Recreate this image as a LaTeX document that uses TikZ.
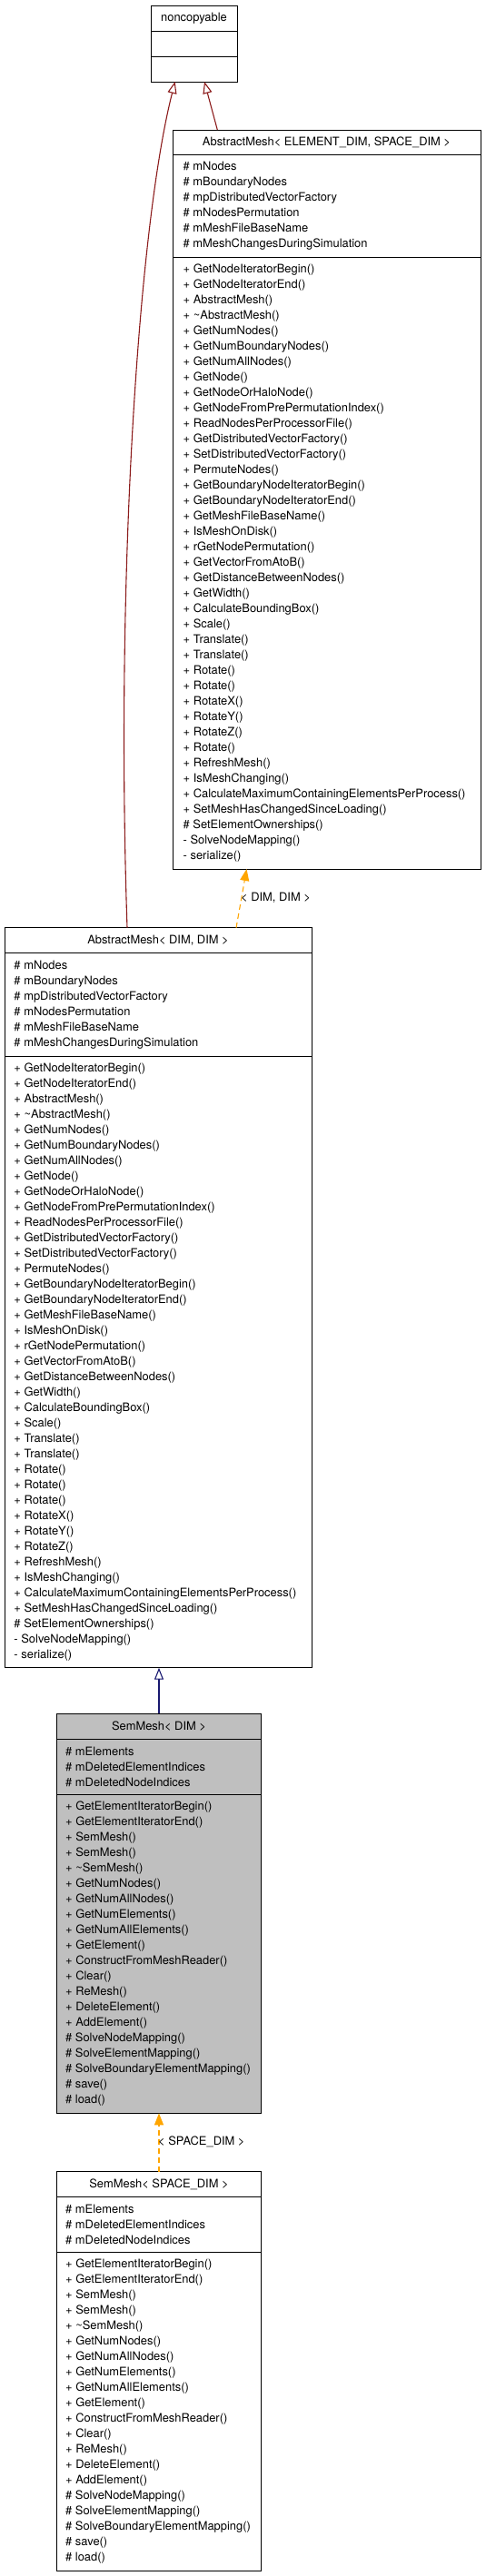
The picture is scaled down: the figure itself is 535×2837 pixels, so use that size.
\documentclass[tikz,border=0pt]{standalone}
\usepackage{fontspec}
\setmainfont{TeX Gyre Heros}
\usetikzlibrary{arrows.meta, positioning, calc}
\definecolor{privred}{RGB}{139,26,26}
\definecolor{pubblue}{RGB}{25,25,112}
\definecolor{tplorange}{RGB}{255,165,0}
\definecolor{boxgray}{RGB}{191,191,191}
\newcommand{\umlfont}{\fontsize{12.9bp}{17bp}\selectfont}
% shared member lists
\newcommand{\meshattrs}{\# mNodes\\ \# mBoundaryNodes\\ \# mpDistributedVectorFactory\\
    \# mNodesPermutation\\ \# mMeshFileBaseName\\ \# mMeshChangesDuringSimulation}
\newcommand{\semattrs}{\# mElements\\ \# mDeletedElementIndices\\ \# mDeletedNodeIndices}
\newcommand{\semmethods}{+ GetElementIteratorBegin()\\ + GetElementIteratorEnd()\\
    + SemMesh()\\ + SemMesh()\\ + \textasciitilde SemMesh()\\ + GetNumNodes()\\
    + GetNumAllNodes()\\ + GetNumElements()\\ + GetNumAllElements()\\ + GetElement()\\
    + ConstructFromMeshReader()\\ + Clear()\\ + ReMesh()\\ + DeleteElement()\\
    + AddElement()\\ \# SolveNodeMapping()\\ \# SolveElementMapping()\\
    \# SolveBoundaryElementMapping()\\ \# save()\\ \# load()}

\tikzset{
    % Class boxes
    cbox/.style={rectangle, draw=black, line width=1bp, fill=#1, inner sep=0pt,
                outer sep=0pt, anchor=north west},
    cbox/.default=white,
    ctitle/.style={font=\umlfont, inner sep=0pt},
    clist/.style={font=\umlfont, align=left, inner sep=0pt, anchor=west},
    csep/.style={line width=1bp, black},
    % Inheritance
    privarrow/.style={-{Triangle[open, length=13bp, width=10bp]}, line width=1.1bp, privred},
    pubarrow/.style={-{Triangle[open, length=13bp, width=10bp]}, line width=1.1bp, pubblue},
    % Template instances
    tplarrow/.style={-{Triangle[length=13bp, width=10bp]}, line width=1.1bp, tplorange,
                dash pattern=on 6bp off 4bp},
    tpllbl/.style={font=\umlfont, inner sep=0pt, anchor=west},
}

\begin{document}
\begin{tikzpicture}[x=1bp, y=-1bp]
\useasboundingbox (0,0) rectangle (535,2837);

% noncopyable
\node[cbox, minimum width=95bp, minimum height=84bp] (nc) at (166,6) {};
\draw[csep] (166,34) -- (261,34);
\draw[csep] (166,62) -- (261,62);
\node[ctitle] (ncT) at (213.5,20) {noncopyable};

% AbstractMesh< ELEMENT_DIM, SPACE_DIM >
\node[cbox, minimum width=339bp, minimum height=814bp] (amES) at (190,143) {};
\draw[csep] (190,170.7) -- (529,170.7);
\draw[csep] (190,283.3) -- (529,283.3);
\node[ctitle] (amEST) at (359.5,156.8) {AbstractMesh< ELEMENT\_DIM, SPACE\_DIM >};
\node[clist] (amESA) at (201.5,227) {\meshattrs};
\node[clist] (amESM) at (201.5,620.2) {+ GetNodeIteratorBegin()\\ + GetNodeIteratorEnd()\\
    + AbstractMesh()\\ + \textasciitilde AbstractMesh()\\ + GetNumNodes()\\
    + GetNumBoundaryNodes()\\ + GetNumAllNodes()\\ + GetNode()\\ + GetNodeOrHaloNode()\\
    + GetNodeFromPrePermutationIndex()\\ + ReadNodesPerProcessorFile()\\
    + GetDistributedVectorFactory()\\ + SetDistributedVectorFactory()\\ + PermuteNodes()\\
    + GetBoundaryNodeIteratorBegin()\\ + GetBoundaryNodeIteratorEnd()\\
    + GetMeshFileBaseName()\\ + IsMeshOnDisk()\\ + rGetNodePermutation()\\
    + GetVectorFromAtoB()\\ + GetDistanceBetweenNodes()\\ + GetWidth()\\
    + CalculateBoundingBox()\\ + Scale()\\ + Translate()\\ + Translate()\\ + Rotate()\\
    + Rotate()\\ + RotateX()\\ + RotateY()\\ + RotateZ()\\ + Rotate()\\ + RefreshMesh()\\
    + IsMeshChanging()\\ + CalculateMaximumContainingElementsPerProcess()\\
    + SetMeshHasChangedSinceLoading()\\ \# SetElementOwnerships()\\
    - SolveNodeMapping()\\ - serialize()};

% AbstractMesh< DIM, DIM >
\node[cbox, minimum width=338bp, minimum height=815bp] (amDD) at (5,1021.7) {};
\draw[csep] (5,1049.3) -- (343,1049.3);
\draw[csep] (5,1163.3) -- (343,1163.3);
\node[ctitle] (amDDT) at (174,1035.5) {AbstractMesh< DIM, DIM >};
\node[clist] (amDDA) at (15.3,1106.3) {\meshattrs};
\node[clist] (amDDM) at (15.3,1500) {+ GetNodeIteratorBegin()\\ + GetNodeIteratorEnd()\\
    + AbstractMesh()\\ + \textasciitilde AbstractMesh()\\ + GetNumNodes()\\
    + GetNumBoundaryNodes()\\ + GetNumAllNodes()\\ + GetNode()\\ + GetNodeOrHaloNode()\\
    + GetNodeFromPrePermutationIndex()\\ + ReadNodesPerProcessorFile()\\
    + GetDistributedVectorFactory()\\ + SetDistributedVectorFactory()\\ + PermuteNodes()\\
    + GetBoundaryNodeIteratorBegin()\\ + GetBoundaryNodeIteratorEnd()\\
    + GetMeshFileBaseName()\\ + IsMeshOnDisk()\\ + rGetNodePermutation()\\
    + GetVectorFromAtoB()\\ + GetDistanceBetweenNodes()\\ + GetWidth()\\
    + CalculateBoundingBox()\\ + Scale()\\ + Translate()\\ + Translate()\\ + Rotate()\\
    + Rotate()\\ + Rotate()\\ + RotateX()\\ + RotateY()\\ + RotateZ()\\ + RefreshMesh()\\
    + IsMeshChanging()\\ + CalculateMaximumContainingElementsPerProcess()\\
    + SetMeshHasChangedSinceLoading()\\ \# SetElementOwnerships()\\
    - SolveNodeMapping()\\ - serialize()};

% SemMesh< DIM >
\node[cbox=boxgray, minimum width=225.4bp, minimum height=440bp] (smD) at (62.3,1887.3) {};
\draw[csep] (62.3,1915) -- (287.7,1915);
\draw[csep] (62.3,1976.7) -- (287.7,1976.7);
\node[ctitle] (smDT) at (175,1901.2) {SemMesh< DIM >};
\node[clist] (smDA) at (72,1945.9) {\semattrs};
\node[clist] (smDM) at (72,2152) {\semmethods};

% SemMesh< SPACE_DIM >
\node[cbox, minimum width=225.4bp, minimum height=439.3bp] (smS) at (62.3,2391.7) {};
\draw[csep] (62.3,2419.3) -- (287.7,2419.3);
\draw[csep] (62.3,2480.7) -- (287.7,2480.7);
\node[ctitle] (smST) at (175,2405.5) {SemMesh< SPACE\_DIM >};
\node[clist] (smSA) at (72,2450) {\semattrs};
\node[clist] (smSM) at (72,2655.9) {\semmethods};

% Inheritance arrows
\draw[privarrow] ([xshift=49.3bp]amES.north west) -- ([xshift=59bp]nc.south west);
\draw[privarrow] ([xshift=135bp]amDD.north west) .. controls (127,640) and (152,250)
    .. ([xshift=26.7bp]nc.south west);
\draw[pubarrow] (smD.north) -- (smD.north |- amDD.south);

% Template instances
\draw[tplarrow] ([xshift=255bp]amDD.north west) -- ([xshift=81.5bp]amES.south west);
\node[tpllbl] (lblDD) at (265,989) {< DIM, DIM >};
\draw[tplarrow] (smS.north) -- (smD.south);
\node[tpllbl] (lblSD) at (174,2359) {< SPACE\_DIM >};
\end{tikzpicture}
\end{document}
